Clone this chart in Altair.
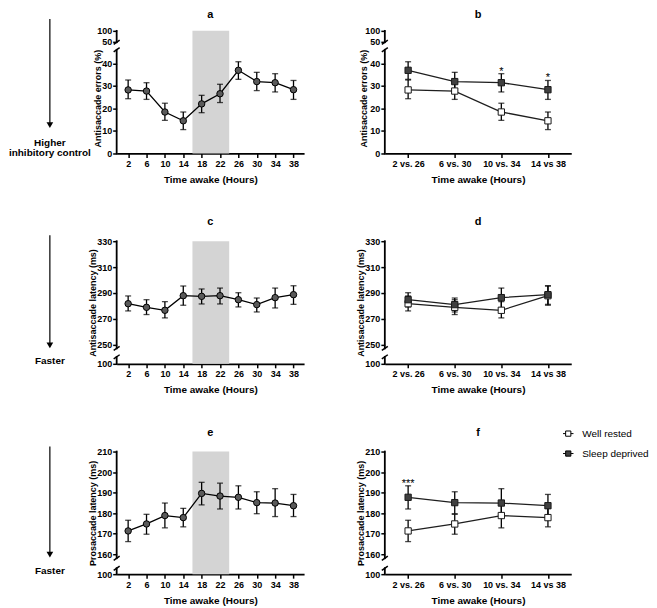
import altair as alt
import pandas as pd

FONT = "Liberation Sans"

# ---------------- data ----------------
hours = [2, 6, 10, 14, 18, 22, 26, 30, 34, 38]

errors_mean = [28.2, 27.7, 18.4, 14.5, 22.0, 26.5, 36.9, 31.9, 31.4, 28.3]
errors_lo = [24.3, 24.0, 14.7, 10.6, 18.1, 22.6, 32.9, 27.9, 27.3, 24.0]
errors_hi = [32.6, 31.4, 22.3, 18.4, 25.8, 30.7, 40.7, 36.0, 35.4, 32.4]

anti_lat_mean = [281.6, 278.8, 276.5, 287.8, 287.3, 287.8, 284.7, 280.9, 286.3, 288.6]
anti_lat_lo = [276.0, 273.2, 270.6, 280.4, 281.4, 281.4, 279.1, 275.2, 278.3, 281.1]
anti_lat_hi = [287.6, 284.7, 283.2, 295.3, 293.0, 293.7, 290.1, 286.0, 293.7, 295.5]

pro_lat_mean = [171.3, 174.7, 178.8, 177.8, 189.6, 188.3, 187.7, 185.1, 184.9, 183.6]
pro_lat_lo = [166.1, 169.7, 172.8, 173.3, 184.0, 182.0, 182.0, 179.7, 178.3, 178.3]
pro_lat_hi = [176.5, 179.4, 184.9, 182.3, 195.0, 194.6, 193.3, 190.4, 191.9, 189.1]

comparisons = ["2 vs. 26", "6 vs. 30", "10 vs. 34", "14 vs 38"]
groups = ["Well rested", "Sleep deprived"]
well_rested_hours = [2, 6, 10, 14]
sleep_deprived_hours = [26, 30, 34, 38]

sig_b = ["", "", "*", "*"]
sig_d = ["", "", "", ""]
sig_f = ["***", "", "", ""]

night_start, night_end = 16, 24

ticks_a = [0, 10, 20, 30, 40, 50, 100]
ticks_c = [100, 250, 270, 290, 310, 330]
ticks_e = [100, 160, 170, 180, 190, 200, 210]

# broken-axis scales: [lower start, lower end, upper start, upper end]
domain_a = [0, 46, 48, 100]
domain_c = [100, 110, 247, 330]
domain_e = [100, 110, 158, 210]

# ---------------- layout ----------------
H = 123
W_L = 188
W_R = 187
range_a = [H, 19, 11.4, 0]
range_c = [H, 116, 107.5, 0]
range_e = [H, 117, 107, 0]
X_DOM = [-0.5, 40.3]
AX = -67  # arrow x (relative to left plot)
ROW_STEP = 211

SLASH = "M-1,0.7L1,-0.7"
LEG_SYM = "M-1,0L-0.5,0M0.5,0L1,0M-0.5,-0.5L0.5,-0.5L0.5,0.5L-0.5,0.5Z"

one = pd.DataFrame({"k": [0]})


def letter(name, w, yb):
    return alt.Chart(one).mark_text(text=name, font=FONT, fontSize=11, fontWeight="bold",
                                    baseline="alphabetic", align="center", color="black").encode(
        x=alt.value(w / 2), y=alt.value(yb))


def y_axis(ticks, title, tx, ty):
    return alt.Axis(values=ticks, title=title, domain=False, titleX=tx, titleY=ty,
                    titleBaseline="alphabetic", titleFontSize=9, labelOverlap=False,
                    labelPadding=1)


def axis_layers(dom, Y):
    seg = pd.DataFrame({"s0": [dom[0], dom[2]], "s1": [dom[1], dom[3]]})
    brk = pd.DataFrame({"b": [dom[1], dom[2]]})
    line = alt.Chart(seg).mark_rule(color="black", strokeWidth=1.8, strokeCap="square").encode(
        x=alt.value(0), y=Y("s0"), y2="s1")
    slash = alt.Chart(brk).mark_point(shape=SLASH, size=36, color="black", strokeWidth=1.5,
                                      filled=False, opacity=1).encode(x=alt.value(0), y=Y("b"))
    return [line, slash]


def left_panel(name, mean, lo, hi, ytitle, ticks, dom, rng, tx, ty, annot, arrow_top, arrow_tip, ly):
    df = pd.DataFrame({"hour": hours, "mean": mean, "lo": lo, "hi": hi})
    xs = alt.Scale(domain=X_DOM, nice=False, zero=False)
    ys = alt.Scale(domain=dom, range=rng, nice=False, zero=False)
    xa = alt.Axis(values=hours, title="Time awake (Hours)", titleY=29, titleBaseline="alphabetic",
                  labelOverlap=False, labelAngle=0)
    ya = y_axis(ticks, ytitle, tx, ty)

    def X(f):
        return alt.X(f, type="quantitative", scale=xs, axis=xa)

    def Y(f):
        return alt.Y(f, type="quantitative", scale=ys, axis=ya)

    band = alt.Chart(pd.DataFrame({"start": [night_start], "end": [night_end],
                                   "ymin": [dom[0]], "ymax": [dom[-1]]})).mark_rect(
        color="#d4d4d4").encode(x=X("start"), x2="end", y=Y("ymin"), y2="ymax")
    base = alt.Chart(df)
    bars = base.mark_rule(color="black", strokeWidth=1.3).encode(x=X("hour"), y=Y("lo"), y2="hi")
    cap_lo = base.mark_tick(color="black", orient="horizontal", size=6, thickness=1.3).encode(
        x=X("hour"), y=Y("lo"))
    cap_hi = base.mark_tick(color="black", orient="horizontal", size=6, thickness=1.3).encode(
        x=X("hour"), y=Y("hi"))
    line = base.mark_line(color="black", strokeWidth=1.3).encode(x=X("hour"), y=Y("mean"))
    pts = base.mark_point(shape="circle", filled=True, fill="#5a5a5a", stroke="black",
                          strokeWidth=1, size=42, opacity=1).encode(x=X("hour"), y=Y("mean"))

    arrow = alt.Chart(one).mark_rule(color="black", strokeWidth=1.2).encode(
        x=alt.value(AX), y=alt.value(arrow_top), y2=alt.value(arrow_tip - 5))
    head = alt.Chart(one).mark_point(shape="triangle-down", filled=True, color="black",
                                     size=45, opacity=1).encode(x=alt.value(AX), y=alt.value(arrow_tip - 3.5))
    texts = [alt.Chart(one).mark_text(text=t, font=FONT, fontSize=10, fontWeight="bold",
                                      baseline="alphabetic", align="center", color="black").encode(
        x=alt.value(AX), y=alt.value(yb)) for t, yb in annot]

    layers = ([band] + axis_layers(dom, Y) + [bars, cap_lo, cap_hi, line, pts, arrow, head]
              + texts + [letter(name, W_L, ly)])
    return alt.layer(*layers).properties(width=W_L, height=H)


def right_panel(name, mean, lo, hi, sig, ytitle, ticks, dom, rng, tx, ty, ly, legend):
    rows = []
    for g, hs in [(groups[0], well_rested_hours), (groups[1], sleep_deprived_hours)]:
        for ci, c in enumerate(comparisons):
            i = hours.index(hs[ci])
            rows.append({"group": g, "comp": c, "mean": mean[i], "lo": lo[i], "hi": hi[i],
                         "sig": sig[ci] if g == groups[1] else ""})
    df = pd.DataFrame(rows)
    xs = alt.Scale(type="point", padding=0.5)
    ys = alt.Scale(domain=dom, range=rng, nice=False, zero=False)
    xa = alt.Axis(title="Time awake (Hours)", titleY=29, titleBaseline="alphabetic",
                  labelOverlap=False, labelAngle=0)
    ya = y_axis(ticks, ytitle, tx, ty)

    def X():
        return alt.X("comp", type="nominal", sort=comparisons, scale=xs, axis=xa)

    def Y(f):
        return alt.Y(f, type="quantitative", scale=ys, axis=ya)

    base = alt.Chart(df)
    line = base.mark_line(strokeWidth=1.3, color="#1e1e1e").encode(
        x=X(), y=Y("mean"), detail="group:N")
    bars = base.mark_rule(strokeWidth=1.3, color="black").encode(x=X(), y=Y("lo"), y2="hi")
    cap_lo = base.mark_tick(orient="horizontal", size=6, thickness=1.3, color="black").encode(
        x=X(), y=Y("lo"))
    cap_hi = base.mark_tick(orient="horizontal", size=6, thickness=1.3, color="black").encode(
        x=X(), y=Y("hi"))
    if legend:
        leg = alt.Legend(title=None, orient="none", legendX=W_R - 9, legendY=-24, symbolType=LEG_SYM,
                         symbolSize=110, symbolStrokeColor="black", symbolStrokeWidth=1,
                         labelFont=FONT, labelFontSize=10, labelFontWeight="normal",
                         labelColor="black", labelOffset=8, rowPadding=9, padding=0,
                         direction="vertical")
    else:
        leg = None
    pts = base.mark_point(shape="square", filled=True, stroke="#1a1a1a", strokeWidth=1, size=40,
                          opacity=1).encode(
        x=X(), y=Y("mean"),
        fill=alt.Fill("group:N", scale=alt.Scale(domain=groups, range=["white", "#404040"]),
                      legend=leg))
    stars = base.transform_filter("datum.sig != ''").mark_text(
        font=FONT, fontSize=11, baseline="alphabetic", dy=1, color="black").encode(
        x=X(), y=Y("hi"), text="sig:N")

    layers = axis_layers(dom, Y) + [line, bars, cap_lo, cap_hi, pts, stars, letter(name, W_R, ly)]
    return alt.layer(*layers).properties(width=W_R, height=H)


pa = left_panel("a", errors_mean, errors_lo, errors_hi, "Antisaccade errors (%)", ticks_a,
                domain_a, range_a, -16, 67.5,
                [("Higher", 115), ("inhibitory control", 126)], -12, 98, -13)
pb = right_panel("b", errors_mean, errors_lo, errors_hi, sig_b, "Antisaccade errors (%)", ticks_a,
                 domain_a, range_a, -18, 67.5, -13, False)
pc = left_panel("c", anti_lat_mean, anti_lat_lo, anti_lat_hi, "Antisaccade latency (ms)", ticks_c,
                domain_c, range_c, -21, 61.5, [("Faster", 122.7)], -6, 108, -16)
pd_ = right_panel("d", anti_lat_mean, anti_lat_lo, anti_lat_hi, sig_d, "Antisaccade latency (ms)",
                  ticks_c, domain_c, range_c, -21, 61.5, -16, False)
pe = left_panel("e", pro_lat_mean, pro_lat_lo, pro_lat_hi, "Prosaccade latency (ms)", ticks_e,
                domain_e, range_e, -21, 61.5, [("Faster", 122.7)], -5, 107, -16)
pf = right_panel("f", pro_lat_mean, pro_lat_lo, pro_lat_hi, sig_f, "Prosaccade latency (ms)",
                 ticks_e, domain_e, range_e, -21, 61.5, -16, True)

res = dict(fill="independent")
row1 = alt.hconcat(pa, pb, spacing=81, bounds="flush").resolve_scale(**res)
row2 = alt.hconcat(pc, pd_, spacing=81, bounds="flush").resolve_scale(**res)
row3 = alt.hconcat(pe, pf, spacing=81, bounds="flush").resolve_scale(**res)

chart = alt.vconcat(row1, row2, row3, spacing=ROW_STEP, bounds="flush").resolve_scale(**res).properties(
    padding=0
).configure_view(stroke=None).configure_axis(
    domainColor="black", domainWidth=1.8, tickColor="black", tickWidth=1.5, tickSize=4,
    labelFont=FONT, labelFontSize=9, labelFontWeight="bold", labelColor="black",
    titleFont=FONT, titleFontWeight="bold", titleColor="black", titleFontSize=10,
    grid=False, labelPadding=2
)

chart.save("out.html", embed_options={"renderer": "svg", "actions": False})
